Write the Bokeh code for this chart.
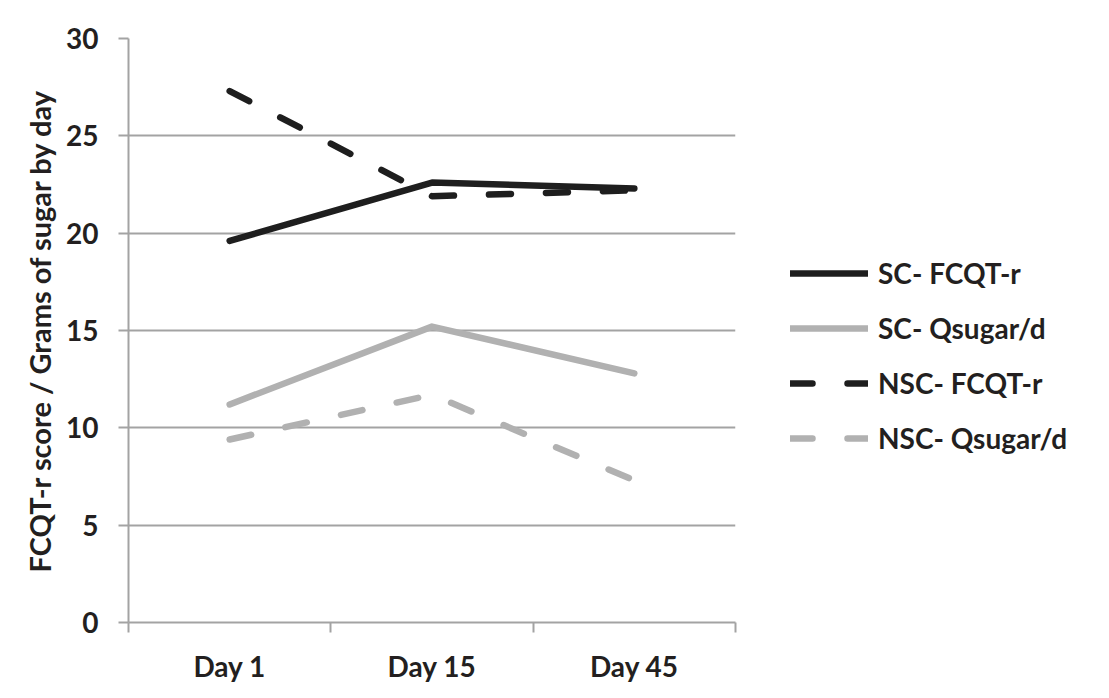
from bokeh.plotting import figure
from bokeh.models import Range1d, FixedTicker, Legend, LegendItem
from bokeh.embed import file_html
from bokeh.resources import INLINE

# ---- data ----
days = ["Day 1", "Day 15", "Day 45"]
sc_fcqt = [19.6, 22.6, 22.3]
sc_qsugar = [11.2, 15.2, 12.8]
nsc_fcqt = [27.3, 21.9, 22.2]
nsc_qsugar = [9.4, 11.7, 7.3]
y_ticks = [0, 5, 10, 15, 20, 25, 30]
series_names = ["SC- FCQT-r", "SC- Qsugar/d", "NSC- FCQT-r", "NSC- Qsugar/d"]
y_title = "FCQT-r score / Grams of sugar by day"

# category centres / boundaries on a numeric scale
x_pos = [i + 0.5 for i in range(len(days))]
x_bounds = [float(i) for i in range(len(days) + 1)]

BLACK = "#1e1e1e"
LGRAY = "#b1b1b1"
GRID = "#a3a3a3"
TEXT = "#231f20"
FONT = "Lato"

p = figure(x_range=Range1d(0, len(days)), y_range=Range1d(0, 30),
           frame_width=607, frame_height=584,
           min_border_left=128, min_border_right=0,
           min_border_top=38, min_border_bottom=60,
           output_backend="svg", toolbar_location=None,
           background_fill_color="white", border_fill_color="white")
p.outline_line_color = None

xa = p.xaxis[0]
xa.ticker = FixedTicker(ticks=x_pos, minor_ticks=x_bounds)
xa.major_label_overrides = {x: d for x, d in zip(x_pos, days)}
xa.major_tick_line_color = None
xa.major_tick_out = 0
xa.major_tick_in = 0
xa.minor_tick_line_color = GRID
xa.minor_tick_line_width = 2
xa.minor_tick_out = 10
xa.minor_tick_in = 0
xa.axis_line_color = GRID
xa.axis_line_width = 2
xa.major_label_standoff = 16
xa.major_label_text_font = FONT
xa.major_label_text_font_style = "bold"
xa.major_label_text_font_size = "28px"
xa.major_label_text_color = TEXT

ya = p.yaxis[0]
ya.ticker = FixedTicker(ticks=y_ticks, minor_ticks=[])
ya.axis_line_color = GRID
ya.axis_line_width = 2
ya.major_tick_line_color = GRID
ya.major_tick_line_width = 2
ya.major_tick_out = 10
ya.major_tick_in = 0
ya.minor_tick_line_color = None
ya.major_label_standoff = 20
ya.major_label_text_font = FONT
ya.major_label_text_font_style = "bold"
ya.major_label_text_font_size = "28px"
ya.major_label_text_color = TEXT
ya.axis_label = y_title
ya.axis_label_text_font = FONT
ya.axis_label_text_font_style = "bold"
ya.axis_label_text_font_size = "29px"
ya.axis_label_text_color = TEXT
ya.axis_label_standoff = 6

p.ygrid.ticker = FixedTicker(ticks=y_ticks, minor_ticks=[])
p.ygrid.grid_line_color = GRID
p.ygrid.grid_line_width = 2
p.xgrid.grid_line_color = None

W = 6.5
styles = [
    (sc_fcqt, BLACK, "solid"),
    (sc_qsugar, LGRAY, "solid"),
    (nsc_fcqt, BLACK, "22 35"),
    (nsc_qsugar, LGRAY, "22 35"),
]
items = []
for name, (vals, col, dash) in zip(series_names, styles):
    r = p.line(x_pos, vals, line_color=col, line_width=W, line_dash=dash,
               line_cap="round", line_join="round")
    items.append(LegendItem(label=name, renderers=[r]))

legend = Legend(items=items, location=(55, 164))
legend.glyph_width = 78
legend.glyph_height = 40
legend.label_height = 40
legend.label_standoff = 10
legend.spacing = 15
legend.padding = 0
legend.margin = 0
legend.border_line_color = None
legend.background_fill_alpha = 0
legend.label_text_font = FONT
legend.label_text_font_style = "bold"
legend.label_text_font_size = "28px"
legend.label_text_color = TEXT
p.add_layout(legend, "right")

open("out.html", "w").write(file_html(p, INLINE))
